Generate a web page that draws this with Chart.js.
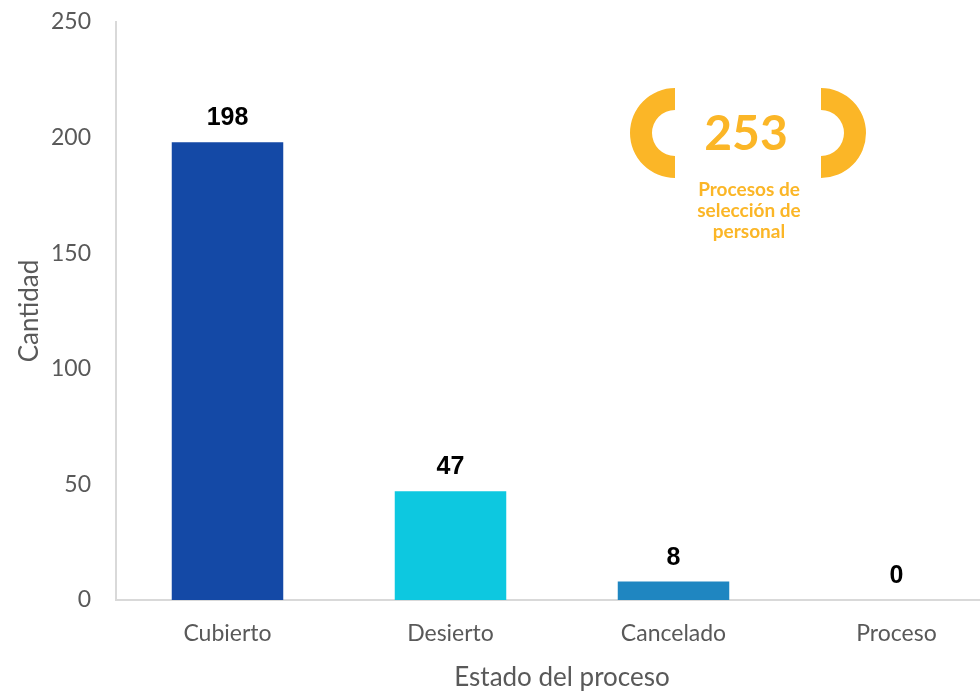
<!DOCTYPE html>
<html>
<head>
<meta charset="utf-8">
<script src="https://cdn.jsdelivr.net/npm/chart.js@4/dist/chart.umd.min.js"></script>
<style>
  html, body { margin: 0; padding: 0; background: #fff; overflow: hidden; }
  #wrap { width: 1008px; height: 691px; }
</style>
</head>
<body>
<div id="wrap"><canvas id="chart" width="1008" height="691"></canvas></div>
<script>
const categories = ['Cubierto', 'Desierto', 'Cancelado', 'Proceso'];
const values = [198, 47, 8, 0];
const barColors = ['#1449A6', '#0DC8E0', '#1F86C1', '#1F86C1'];
const yTicks = [0, 50, 100, 150, 200, 250];
const totalLabel = '253';
const totalCaption = ['Procesos de', 'selección de', 'personal'];

const AXIS_GREY = '#d9d9d9';
const TEXT_GREY = '#595959';
const ORANGE = '#FBB627';

// value labels above bars
const valueLabels = {
  id: 'valueLabels',
  afterDatasetsDraw(chart) {
    const { ctx } = chart;
    const meta = chart.getDatasetMeta(0);
    ctx.save();
    ctx.font = 'bold 25px "Liberation Sans", Arial, sans-serif';
    ctx.fillStyle = '#000';
    ctx.textAlign = 'center';
    ctx.textBaseline = 'alphabetic';
    meta.data.forEach((bar, i) => {
      ctx.fillText(String(values[i]), bar.x, bar.y - 17);
    });
    ctx.restore();
  },
};

// orange "253" badge
const totalBadge = {
  id: 'totalBadge',
  afterDraw(chart) {
    const { ctx } = chart;
    const cy = 133;
    const rOut = 45;
    const rIn = 23;
    ctx.save();
    ctx.fillStyle = ORANGE;

    ctx.beginPath();
    ctx.arc(675, cy, rOut, Math.PI / 2, Math.PI * 1.5);
    ctx.arc(675, cy, rIn, Math.PI * 1.5, Math.PI / 2, true);
    ctx.closePath();
    ctx.fill();

    ctx.beginPath();
    ctx.arc(821, cy, rOut, -Math.PI / 2, Math.PI / 2);
    ctx.arc(821, cy, rIn, Math.PI / 2, -Math.PI / 2, true);
    ctx.closePath();
    ctx.fill();

    ctx.textAlign = 'center';
    ctx.textBaseline = 'middle';
    ctx.font = 'bold 48px Lato, sans-serif';
    ctx.fillText(totalLabel, 746, 135);

    ctx.font = 'bold 19px Lato, sans-serif';
    totalCaption.forEach((line, i) => {
      ctx.fillText(line, 749, 190 + i * 21);
    });
    ctx.restore();
  },
};

new Chart(document.getElementById('chart').getContext('2d'), {
  type: 'bar',
  data: {
    labels: categories,
    datasets: [
      {
        data: values,
        backgroundColor: barColors,
        barPercentage: 0.5,
        categoryPercentage: 1.0,
      },
    ],
  },
  options: {
    responsive: false,
    animation: false,
    layout: { padding: { top: 22, right: 0, left: 0, bottom: 0 } },
    plugins: {
      legend: { display: false },
      tooltip: { enabled: false },
    },
    scales: {
      x: {
        grid: { display: false, drawTicks: false },
        border: { color: AXIS_GREY, width: 2 },
        ticks: {
          color: TEXT_GREY,
          font: { family: 'Lato', size: 23 },
          padding: 20,
        },
        title: {
          display: true,
          text: 'Estado del proceso',
          color: TEXT_GREY,
          font: { family: 'Lato', size: 26, lineHeight: 1.0 },
          padding: { top: 0, bottom: 0 },
        },
        afterFit: (scale) => { scale.height = 91; },
      },
      y: {
        min: 0,
        max: 250,
        grid: { display: false, drawTicks: false },
        border: { color: AXIS_GREY, width: 2 },
        afterBuildTicks: (scale) => {
          scale.ticks = yTicks.map((v) => ({ value: v }));
        },
        ticks: {
          color: TEXT_GREY,
          font: { family: 'Lato', size: 23 },
          padding: 25,
        },
        title: {
          display: true,
          text: 'Cantidad',
          color: TEXT_GREY,
          font: { family: 'Lato', size: 26 },
          padding: { top: 14, bottom: 0 },
        },
        afterFit: (scale) => {
          scale.width = 116;
          scale.paddingTop = 0;
          scale.paddingBottom = 0;
        },
      },
    },
  },
  plugins: [valueLabels, totalBadge],
});
</script>
</body>
</html>
